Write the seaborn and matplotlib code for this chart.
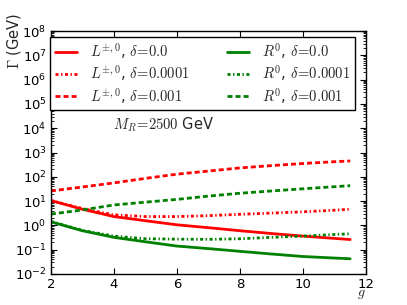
import numpy as np
import pandas as pd
import matplotlib
matplotlib.use("Agg")
import matplotlib.pyplot as plt
import seaborn as sns
from matplotlib.ticker import LogLocator, LogFormatterSciNotation, NullFormatter, FixedLocator

g = [2, 3, 4, 5, 6, 7, 8, 9, 10, 11, 11.5]
L_d0 = [10.5, 4.6, 2.3, 1.55, 1.05, 0.80, 0.60, 0.46, 0.36, 0.29, 0.26]
L_d1e4 = [10.6, 4.9, 2.7, 2.3, 2.3, 2.5, 2.85, 3.2, 3.6, 4.2, 4.6]
L_d1e3 = [26, 38, 56, 86, 128, 172, 232, 288, 352, 418, 448]
R_d0 = [1.4, 0.6, 0.32, 0.21, 0.14, 0.11, 0.085, 0.066, 0.052, 0.045, 0.042]
R_d1e4 = [1.45, 0.62, 0.36, 0.28, 0.27, 0.265, 0.28, 0.32, 0.36, 0.42, 0.45]
R_d1e3 = [2.9, 4.3, 6.9, 9.0, 11.7, 16, 21, 26, 32, 39, 43]

labels = [r"$L^{\pm,0}$, $\delta\!=\!0.0$", r"$L^{\pm,0}$, $\delta\!=\!0.0001$", r"$L^{\pm,0}$, $\delta\!=\!0.001$",
          r"$R^{0}$, $\delta\!=\!0.0$", r"$R^{0}$, $\delta\!=\!0.0001$", r"$R^{0}$, $\delta\!=\!0.001$"]
series = [L_d0, L_d1e4, L_d1e3, R_d0, R_d1e4, R_d1e3]
colors = ["#ff0000"] * 3 + ["#008000"] * 3
styles = ["-", (0, (1.1, 0.9, 0.5, 0.9)), (0, (1.8, 1.1))] * 2

sns.set_style("ticks")
plt.rcParams["font.family"] = ["DejaVu Sans"]
plt.rcParams["mathtext.fontset"] = "dejavusans"

fig = plt.figure(figsize=(4.07, 3.05), dpi=100)
ax = fig.add_axes([0.125, 0.102, 0.774, 0.796])

for vals, lab, c, ls in zip(series, labels, colors, styles):
    sns.lineplot(x=g, y=vals, ax=ax, color=c, linestyle=ls, linewidth=2, label=lab)

ax.set_yscale("log")
ax.set_xlim(2, 12)
ax.set_ylim(1e-2, 1e8)
ax.xaxis.set_major_locator(FixedLocator([2, 4, 6, 8, 10, 12]))
ax.yaxis.set_major_locator(LogLocator(base=10, numticks=30))
ax.yaxis.set_major_formatter(LogFormatterSciNotation())
ax.yaxis.set_minor_locator(LogLocator(base=10, subs=np.arange(2, 10), numticks=200))
ax.yaxis.set_minor_formatter(NullFormatter())
ax.tick_params(which="both", direction="in", top=True, right=True, colors="black", labelsize=9.5, pad=3)
ax.tick_params(which="major", length=4, width=0.8)
ax.tick_params(which="minor", length=2, width=0.6)
for s in ax.spines.values():
    s.set_color("black")
    s.set_linewidth(1.0)

ax.set_ylabel(r"$\Gamma$ (GeV)", fontsize=10.5)
ax.yaxis.set_label_coords(-0.09, 0.96)
ax.set_xlabel(r"$g$", fontsize=10)
ax.xaxis.label.set_math_fontfamily("cm")
ax.yaxis.label.set_math_fontfamily("cm")
ax.xaxis.set_label_coords(0.987, -0.055)

t = ax.text(0.197, 0.613, r"$M_R\!=\!2500$ GeV", transform=ax.transAxes, fontsize=10.5, va="center", ha="left")
t.set_math_fontfamily("cm")

leg = ax.legend(ncol=2, loc="upper left", bbox_to_anchor=(-0.003, 0.977), fontsize=10.5,
                frameon=True, fancybox=False, edgecolor="black", framealpha=1, borderaxespad=0,
                handlelength=1.5, handletextpad=0.9, columnspacing=2.6, borderpad=0.33, labelspacing=0.15)
leg.get_frame().set_linewidth(1.0)
for txt in leg.get_texts():
    txt.set_math_fontfamily("cm")

fig.savefig("out.png", dpi=100)
